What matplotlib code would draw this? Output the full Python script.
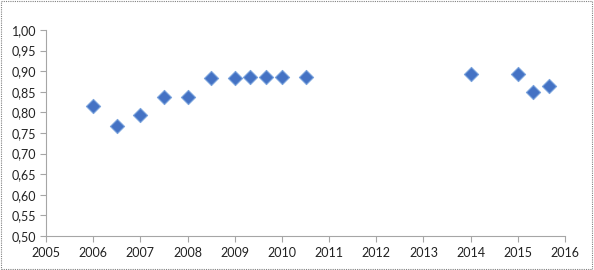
import matplotlib
matplotlib.use("Agg")
import matplotlib.pyplot as plt
from matplotlib.patches import Rectangle

years = [2006.0, 2006.5, 2007.0, 2007.5, 2008.0, 2008.5, 2009.0, 2009.33, 2009.67,
         2010.0, 2010.5, 2014.0, 2015.0, 2015.33, 2015.67]
values = [0.816, 0.767, 0.793, 0.838, 0.838, 0.884, 0.884, 0.887, 0.887,
          0.887, 0.887, 0.892, 0.892, 0.850, 0.864]
xticks = list(range(2005, 2017))
yticks = [0.50, 0.55, 0.60, 0.65, 0.70, 0.75, 0.80, 0.85, 0.90, 0.95, 1.00]

plt.rcParams['font.family'] = ['Lato', 'DejaVu Sans']
fig = plt.figure(figsize=(5.94, 2.70), dpi=100)
ax = fig.add_axes([46/594, 1 - 236/270, (565-46)/594, (236-30)/270])

ax.scatter(years, values, marker='D', s=52, color='#4472C4', edgecolors='#7AA3DC',
           linewidths=0.8, zorder=3)

ax.set_xlim(2005, 2016)
ax.set_ylim(0.5, 1.0)
ax.set_xticks(xticks)
ax.set_xticklabels([str(x) for x in xticks])
ax.set_yticks(yticks)
ax.set_yticklabels([f"{v:.2f}".replace('.', ',') for v in yticks])
for s in ['top', 'right']:
    ax.spines[s].set_visible(False)
for s in ['left', 'bottom']:
    ax.spines[s].set_color('#A6A6A6')
    ax.spines[s].set_linewidth(0.8)
ax.tick_params(axis='both', colors='#A6A6A6', labelcolor='#222222', labelsize=9,
               length=4, width=0.8, direction='out')
ax.tick_params(axis='x', pad=4)
ax.tick_params(axis='y', pad=3)

fig.patches.append(Rectangle((0.002, 0.004), 0.995, 0.992, transform=fig.transFigure,
                             fill=False, edgecolor='#808080', linestyle=(0, (1, 1)),
                             linewidth=0.8))
fig.savefig("out.png", dpi=100)
